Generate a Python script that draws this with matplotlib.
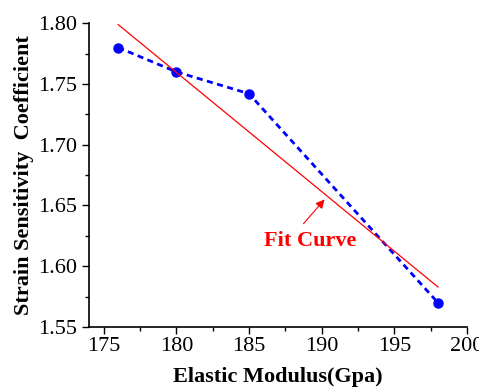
import numpy as np
import matplotlib.pyplot as plt

plt.rcParams.update({'font.family': 'serif'})
plt.rcParams.update({'font.serif': ['Liberation Serif', 'DejaVu Serif']})
plt.rcParams.update({'font.size': 16})

modulus = np.array([176, 180, 185, 198])
coeff = np.array([1.780, 1.760, 1.742, 1.570])

# linear fit over the measured range
k, b = np.polyfit(modulus, coeff, 1)
fit_x = np.array([modulus.min(), modulus.max()])
fit_y = k * fit_x + b

fig, ax = plt.subplots(figsize=(4.79, 3.87), dpi=100)
ax.plot(modulus, coeff, linestyle='--', color='#0000ff', linewidth=2,
        marker='o', markersize=6.5, dashes=(2.2, 1.6))
ax.plot(fit_x, fit_y, color='red', linewidth=0.9)

# label and arrow pointing at the fit line
ax.text(189.2, 1.621, 'Fit Curve', color='red', fontweight='bold',
        fontsize=16, ha='center', va='center')
ax.annotate('', xy=(190.2, 1.655), xytext=(188.75, 1.635),
            arrowprops=dict(arrowstyle='-|>', color='red', linewidth=0.8,
                            shrinkA=0, shrinkB=0, mutation_scale=13))

ax.set_xlim(174, 200)
ax.set_ylim(1.55, 1.80)
ax.set_xticks(np.arange(175, 201, 5))
ax.set_xticks(np.arange(177.5, 200, 5), minor=True)
ax.set_yticks(np.arange(1.55, 1.801, 0.05))
ax.set_yticks(np.arange(1.575, 1.80, 0.05), minor=True)
ax.yaxis.set_major_formatter(plt.FormatStrFormatter('%.2f'))
ax.tick_params(axis='both', which='major', direction='out', length=5, width=1)
ax.tick_params(axis='both', which='minor', direction='out', length=3, width=1)
ax.tick_params(axis='x', pad=2)
ax.spines['top'].set_visible(False)
ax.spines['right'].set_visible(False)
ax.spines['left'].set_linewidth(1.2)
ax.spines['bottom'].set_linewidth(1.2)

ax.set_xlabel('Elastic Modulus(Gpa)', fontweight='bold', labelpad=8)
ax.set_ylabel('Strain Sensitivity  Coefficient', fontweight='bold', labelpad=3)

fig.subplots_adjust(left=0.186, right=0.975, bottom=0.155, top=0.94)
plt.savefig('out.png', dpi=100)
